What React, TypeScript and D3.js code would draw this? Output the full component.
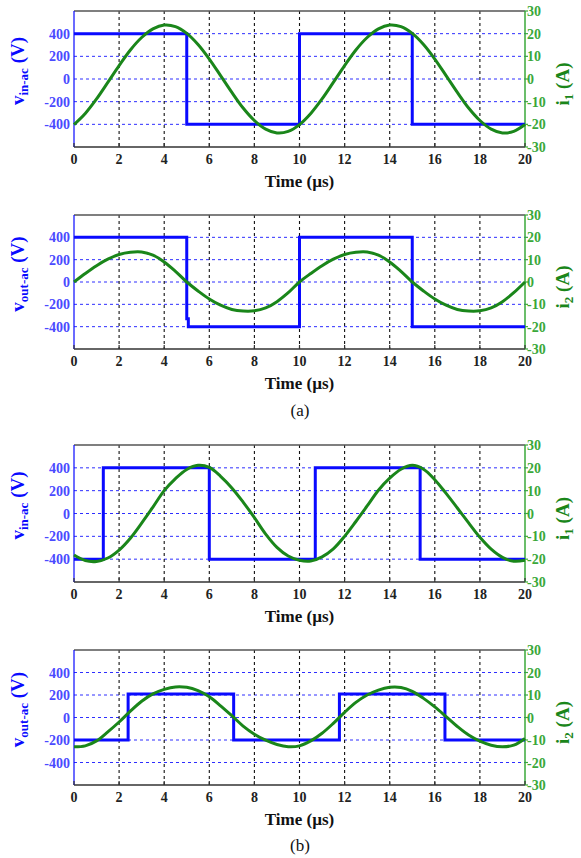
import React from "react";
import * as d3 from "d3";

// ---------- data ----------
const xTicks = [0, 2, 4, 6, 8, 10, 12, 14, 16, 18, 20];
const vTicks = [-400, -200, 0, 200, 400];
const iTicks = [-30, -20, -10, 0, 10, 20, 30];

const T = [0, 0.5, 1, 1.5, 2, 2.5, 3, 3.5, 4, 4.5, 5, 5.5, 6, 6.5, 7, 7.5, 8, 8.5, 9, 9.5, 10,
  10.5, 11, 11.5, 12, 12.5, 13, 13.5, 14, 14.5, 15, 15.5, 16, 16.5, 17, 17.5, 18, 18.5, 19, 19.5, 20];

// (a) top: square vin-ac and i1
const a1EdgeTimes = [0, 5, 10, 15, 20];
const a1EdgeLevels = [400, -400, 400, -400, -400];
const a1Current = [-20.1, -15.2, -8.8, -1.5, 5.9, 12.8, 18.3, 22.1, 23.8, 23.1, 20.1, 15.2, 8.8, 1.5, -5.9, -12.8, -18.3, -22.1, -23.8, -23.1, -20.1,
  -15.2, -8.8, -1.5, 5.9, 12.8, 18.3, 22.1, 23.8, 23.1, 20.1, 15.2, 8.8, 1.5, -5.9, -12.8, -18.3, -22.1, -23.8, -23.1, -20.1];

// (a) bottom: vout-ac and i2
const a2EdgeTimes = [0, 5, 5.07, 10, 15, 20];
const a2EdgeLevels = [400, -330, -400, 400, -400, -400];
const a2Current = [0, 3.8, 7.3, 10.2, 12.3, 13.3, 13.4, 12.0, 9.0, 4.8, 0.0, -4.0, -7.6, -10.4, -12.3, -13.0, -12.9, -11.6, -8.8, -4.8, 0,
  3.8, 7.3, 10.2, 12.3, 13.3, 13.4, 12.0, 9.0, 4.8, 0.0, -4.0, -7.6, -10.4, -12.3, -13.0, -12.9, -11.6, -8.8, -4.8, 0];

// (b) top: vin-ac and i1
const b1EdgeTimes = [0, 1.3, 6.0, 10.7, 15.35, 20];
const b1EdgeLevels = [-400, 400, -400, 400, -400, -400];
const b1Current = [-18.2, -20.6, -21.0, -19.5, -16.0, -10.8, -4.2, 2.8, 10.0, 15.3, 19.3, 21.1, 20.2, 16.3, 11.2, 5.0, -1.8, -9.0, -14.8, -18.6, -20.5,
  -20.8, -19.0, -15.5, -10.0, -3.5, 3.3, 10.2, 15.5, 19.4, 21.1, 19.4, 14.8, 8.8, 2.4, -4.1, -10.4, -15.6, -19.2, -20.9, -20.5];

// (b) bottom: vout-ac and i2
const b2EdgeTimes = [0, 2.4, 7.08, 11.77, 16.45, 20];
const b2EdgeLevels = [-200, 210, -200, 210, -200, -200];
const b2Current = [-13.0, -12.6, -10.4, -6.4, -2.0, 2.8, 7.2, 10.5, 12.5, 13.6, 13.4, 11.9, 9.2, 5.2, 0.8, -3.8, -7.4, -10.1, -12.0, -13.0, -12.6,
  -10.4, -7.0, -2.6, 2.3, 6.7, 10.0, 12.2, 13.4, 13.3, 11.6, 8.5, 4.7, 0.4, -4.0, -7.8, -10.5, -12.3, -13.0, -12.3, -9.3];

const panels = [
  { top: 11, h: 136, vSub: "in-ac", iSub: "1", times: a1EdgeTimes, levels: a1EdgeLevels, cur: a1Current },
  { top: 215, h: 134, vSub: "out-ac", iSub: "2", times: a2EdgeTimes, levels: a2EdgeLevels, cur: a2Current },
  { top: 445, h: 137, vSub: "in-ac", iSub: "1", times: b1EdgeTimes, levels: b1EdgeLevels, cur: b1Current },
  { top: 650, h: 135, vSub: "out-ac", iSub: "2", times: b2EdgeTimes, levels: b2EdgeLevels, cur: b2Current },
];

const captions = [
  { text: "(a)", y: 416 },
  { text: "(b)", y: 851 },
];

// ---------- styles ----------
const LEFT = 74;
const RIGHT = 525;
const BLUE = "#0a0aff";
const BLUE_TICK = "#4a4aff";
const GREEN = "#1a861a";
const GREEN_TICK = "#3aa83a";
const SERIF = "'Liberation Serif', 'DejaVu Serif', serif";

function Panel({ p }: { p: any }) {
  const bottom = p.top + p.h;
  const x = d3.scaleLinear().domain([0, 20]).range([LEFT, RIGHT]);
  const yV = d3.scaleLinear().domain([-600, 600]).range([bottom, p.top]);
  const yI = d3.scaleLinear().domain([-30, 30]).range([bottom, p.top]);

  const stepLine = d3
    .line<number>()
    .x((_, i) => x(p.times[i]))
    .y((d) => yV(d))
    .curve(d3.curveStepAfter);

  const curLine = d3
    .line<number>()
    .x((_, i) => x(T[i]))
    .y((d) => yI(d))
    .curve(d3.curveCatmullRom.alpha(0.5));

  const mid = (p.top + bottom) / 2;

  return (
    <g>
      {/* horizontal grid */}
      {vTicks.map((v) => (
        <line key={"h" + v} x1={LEFT} x2={RIGHT} y1={yV(v)} y2={yV(v)} stroke={BLUE} strokeWidth={1} strokeDasharray="3,3" opacity={0.85} />
      ))}
      {/* vertical grid */}
      {xTicks.slice(1, -1).map((t) => (
        <line key={"v" + t} x1={x(t)} x2={x(t)} y1={p.top} y2={bottom} stroke="#111" strokeWidth={1.1} strokeDasharray="3,3" />
      ))}
      {/* spines */}
      <line x1={LEFT} x2={RIGHT} y1={p.top} y2={p.top} stroke="#555" strokeWidth={1.5} />
      <line x1={LEFT} x2={RIGHT} y1={bottom} y2={bottom} stroke="#333" strokeWidth={1.5} />
      <line x1={LEFT} x2={LEFT} y1={p.top} y2={bottom} stroke={BLUE} strokeWidth={1.5} opacity={0.8} />
      <line x1={RIGHT} x2={RIGHT} y1={p.top} y2={bottom} stroke={GREEN_TICK} strokeWidth={1.5} />
      {/* x ticks */}
      {xTicks.map((t) => (
        <g key={"xt" + t}>
          <line x1={x(t)} x2={x(t)} y1={bottom} y2={bottom - 4} stroke="#333" strokeWidth={1.2} />
          <text x={x(t)} y={bottom + 17} textAnchor="middle" fontFamily={SERIF} fontSize={14} fontWeight="bold" fill="#222">
            {t}
          </text>
        </g>
      ))}
      <text x={(LEFT + RIGHT) / 2} y={bottom + 40} textAnchor="middle" fontFamily={SERIF} fontSize={17} fontWeight="bold" fill="#111">
        Time (µs)
      </text>
      {/* left ticks */}
      {vTicks.map((v) => (
        <text key={"lt" + v} x={70} y={yV(v) + 5} textAnchor="end" fontFamily={SERIF} fontSize={14} fontWeight="bold" fill={BLUE_TICK}>
          {v}
        </text>
      ))}
      {/* right ticks */}
      {iTicks.map((v) => (
        <g key={"rt" + v}>
          <line x1={RIGHT} x2={RIGHT + 3} y1={yI(v)} y2={yI(v)} stroke={GREEN_TICK} strokeWidth={1.2} />
          <text x={RIGHT + 2} y={yI(v) + 5} textAnchor="start" fontFamily={SERIF} fontSize={14} fontWeight="bold" fill={GREEN_TICK}>
            {v}
          </text>
        </g>
      ))}
      {/* axis titles */}
      <text
        transform={`translate(24,${mid - 8}) rotate(-90)`}
        textAnchor="middle"
        fontFamily={SERIF}
        fontSize={19}
        fontWeight="bold"
        fill={BLUE}
      >
        v
        <tspan fontSize={13} dy={4}>{p.vSub}</tspan>
        <tspan dy={-4}> (V)</tspan>
      </text>
      <text
        transform={`translate(569,${mid + 5}) rotate(-90)`}
        textAnchor="middle"
        fontFamily={SERIF}
        fontSize={19}
        fontWeight="bold"
        fill={GREEN}
      >
        i
        <tspan fontSize={13} dy={4}>{p.iSub}</tspan>
        <tspan dy={-4}> (A)</tspan>
      </text>
      {/* data */}
      <path d={stepLine(p.levels) || ""} fill="none" stroke={BLUE} strokeWidth={3} />
      <path d={curLine(p.cur) || ""} fill="none" stroke={GREEN} strokeWidth={3} strokeLinejoin="round" />
    </g>
  );
}

export default function App() {
  return (
    <svg width={581} height={858} style={{ position: "absolute", left: 0, top: 0, background: "#fff" }}>
      <rect width={581} height={858} fill="#fff" />
      {panels.map((p, i) => (
        <Panel key={i} p={p} />
      ))}
      {captions.map((c) => (
        <text key={c.text} x={300} y={c.y} textAnchor="middle" fontFamily={SERIF} fontSize={17} fill="#111">
          {c.text}
        </text>
      ))}
    </svg>
  );
}
